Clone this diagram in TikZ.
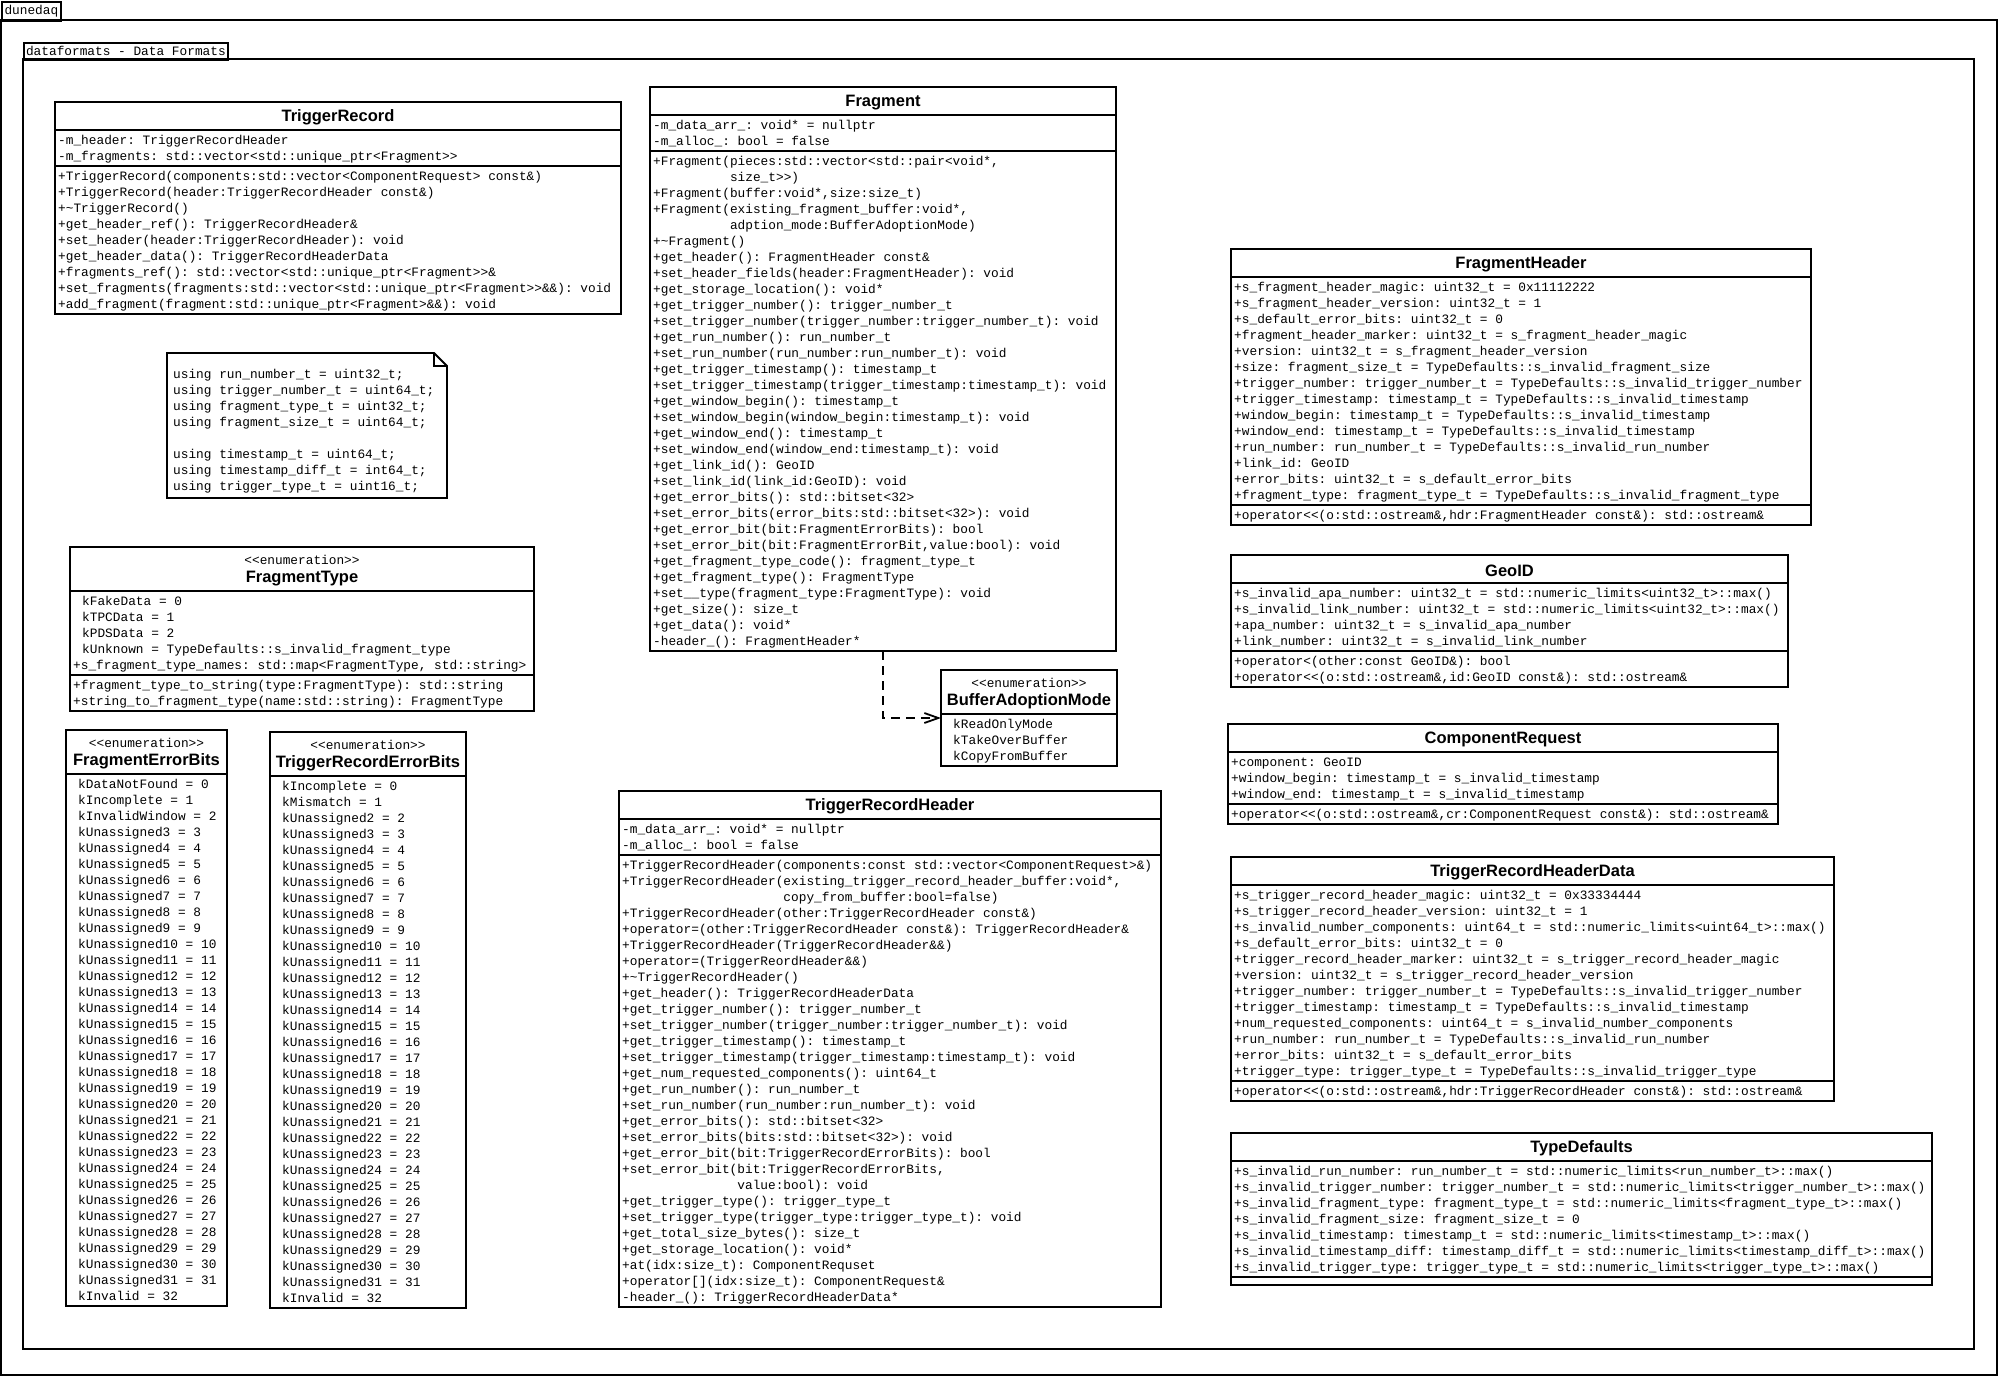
\documentclass[tikz,border=0pt]{standalone}
\usepackage{fontspec}
\setmonofont{Liberation Mono}
\newfontfamily\umltitlefont{Liberation Sans}
\usetikzlibrary{arrows.meta}
\newlength\mycw
\setlength\mycw{7.68pt}
\newcommand\ind{\hspace*{9pt}}
\newcommand\chars[1]{\hspace*{#1\mycw}}
\newcommand\stereo[1]{{\ttfamily\mdseries\fontsize{12.8}{16}\selectfont <<enumeration>>}\\#1}
\tikzset{
  umlbox/.style={draw, line width=1.8pt, fill=white, anchor=north west, inner sep=0pt, outer sep=0pt},
  umlrule/.style={line width=1.8pt},
  umltitle/.style={inner sep=0pt, align=center, font=\umltitlefont\bfseries\fontsize{16.5}{18}\selectfont},
  umltxt/.style={anchor=north west, inner sep=0pt, align=left, font=\ttfamily\fontsize{12.8}{16}\selectfont},
  umltab/.style={draw, line width=1.8pt, anchor=north west, inner sep=0pt, font=\ttfamily\fontsize{12.8}{16}\selectfont},
  umldep/.style={line width=1.8pt, dash pattern=on 9pt off 6pt, -{Straight Barb[length=14pt,width=10pt,line width=1.8pt]}},
}
\newcommand\umlclass[8]{%
  \pgfmathsetmacro\ua{#3+#6}%
  \pgfmathsetmacro\ub{\ua+(#7>0 ? #7*16+4 : 8)}%
  \pgfmathsetmacro\uc{\ub+(#8<0 ? 0 : (#8>0 ? #8*16+4 : 8))}%
  \pgfmathsetmacro\uh{\uc-#3}%
  \node[umlbox, minimum width=#4pt, minimum height=\uh pt] (#1) at (#2,#3) {};
  \draw[umlrule] (#2,\ua) -- ++(#4,0);
  \ifnum#8<0 \else\draw[umlrule] (#2,\ub) -- ++(#4,0);\fi
  \node[umltitle] (#1-title) at ({#2+#4/2},{#3+#6/2+1.5}) {#5};
  \xdef\boxx{#2}\xdef\attrtop{\ua}\xdef\methtop{\ub}%
}
\newcommand\attrs[2]{\node[umltxt] (#1) at ({\boxx+3},{\attrtop+2.5}) {\rule{0pt}{12pt}#2};}
\newcommand\meths[2]{\node[umltxt] (#1) at ({\boxx+3},{\methtop+2.5}) {\rule{0pt}{12pt}#2};}
\begin{document}
\begin{tikzpicture}[x=1pt,y=-1pt]
\useasboundingbox (0,0) rectangle (2000,1377);
\fill[white] (0,0) rectangle (2000,1377);
% frames
\draw[umlrule] (1,20) rectangle (1997,1375);
\node[umltab, minimum width=59pt, minimum height=19pt] (dunedaq) at (1,1) {dunedaq};
\draw[umlrule] (23,59) rectangle (1974,1349);
\node[umltab, minimum width=204pt, minimum height=17pt] (dataformats) at (23,42) {dataformats - Data Formats};

% TriggerRecord
\umlclass{tr}{55}{102}{566}{TriggerRecord}{28}{2}{9}
\attrs{tr-a}{-m\_header: TriggerRecordHeader\\
-m\_fragments: std::vector<std::unique\_ptr<Fragment>>}
\meths{tr-m}{+TriggerRecord(components:std::vector<ComponentRequest> const\&)\\
+TriggerRecord(header:TriggerRecordHeader const\&)\\
+\textasciitilde TriggerRecord()\\
+get\_header\_ref(): TriggerRecordHeader\&\\
+set\_header(header:TriggerRecordHeader): void\\
+get\_header\_data(): TriggerRecordHeaderData\\
+fragments\_ref(): std::vector<std::unique\_ptr<Fragment>>\&\\
+set\_fragments(fragments:std::vector<std::unique\_ptr<Fragment>>\&\&): void\\
+add\_fragment(fragment:std::unique\_ptr<Fragment>\&\&): void}

% Fragment
\umlclass{frag}{650}{87}{466}{Fragment}{28}{2}{31}
\attrs{frag-a}{-m\_data\_arr\_: void* = nullptr\\
-m\_alloc\_: bool = false}
\meths{frag-m}{+Fragment(pieces:std::vector<std::pair<void*,\\
\chars{10}size\_t>>)\\
+Fragment(buffer:void*,size:size\_t)\\
+Fragment(existing\_fragment\_buffer:void*,\\
\chars{10}adption\_mode:BufferAdoptionMode)\\
+\textasciitilde Fragment()\\
+get\_header(): FragmentHeader const\&\\
+set\_header\_fields(header:FragmentHeader): void\\
+get\_storage\_location(): void*\\
+get\_trigger\_number(): trigger\_number\_t\\
+set\_trigger\_number(trigger\_number:trigger\_number\_t): void\\
+get\_run\_number(): run\_number\_t\\
+set\_run\_number(run\_number:run\_number\_t): void\\
+get\_trigger\_timestamp(): timestamp\_t\\
+set\_trigger\_timestamp(trigger\_timestamp:timestamp\_t): void\\
+get\_window\_begin(): timestamp\_t\\
+set\_window\_begin(window\_begin:timestamp\_t): void\\
+get\_window\_end(): timestamp\_t\\
+set\_window\_end(window\_end:timestamp\_t): void\\
+get\_link\_id(): GeoID\\
+set\_link\_id(link\_id:GeoID): void\\
+get\_error\_bits(): std::bitset<32>\\
+set\_error\_bits(error\_bits:std::bitset<32>): void\\
+get\_error\_bit(bit:FragmentErrorBits): bool\\
+set\_error\_bit(bit:FragmentErrorBit,value:bool): void\\
+get\_fragment\_type\_code(): fragment\_type\_t\\
+get\_fragment\_type(): FragmentType\\
+set\_\_type(fragment\_type:FragmentType): void\\
+get\_size(): size\_t\\
+get\_data(): void*\\
-header\_(): FragmentHeader*}

% note
\draw[umlrule] (167,353) -- (434,353) -- (447,366) -- (447,498) -- (167,498) -- cycle;
\draw[line width=1.2pt] (434,353) -- (434,366) -- (447,366);
\node[umltxt] (typesnote) at (173,366) {\rule{0pt}{12pt}using run\_number\_t = uint32\_t;\\
using trigger\_number\_t = uint64\_t;\\
using fragment\_type\_t = uint32\_t;\\
using fragment\_size\_t = uint64\_t;\\
\mbox{}\\
using timestamp\_t = uint64\_t;\\
using timestamp\_diff\_t = int64\_t;\\
using trigger\_type\_t = uint16\_t;};

% FragmentType
\umlclass{ft}{70}{547}{464}{\stereo{FragmentType}}{44}{5}{2}
\attrs{ft-a}{\ind kFakeData = 0\\
\ind kTPCData = 1\\
\ind kPDSData = 2\\
\ind kUnknown = TypeDefaults::s\_invalid\_fragment\_type\\
+s\_fragment\_type\_names: std::map<FragmentType, std::string>}
\meths{ft-m}{+fragment\_type\_to\_string(type:FragmentType): std::string\\
+string\_to\_fragment\_type(name:std::string): FragmentType}

% FragmentErrorBits
\umlclass{feb}{66}{730}{161}{\stereo{FragmentErrorBits}}{44}{33}{-1}
\attrs{feb-a}{\ind kDataNotFound = 0\\
\ind kIncomplete = 1\\
\ind kInvalidWindow = 2\\
\ind kUnassigned3 = 3\\
\ind kUnassigned4 = 4\\
\ind kUnassigned5 = 5\\
\ind kUnassigned6 = 6\\
\ind kUnassigned7 = 7\\
\ind kUnassigned8 = 8\\
\ind kUnassigned9 = 9\\
\ind kUnassigned10 = 10\\
\ind kUnassigned11 = 11\\
\ind kUnassigned12 = 12\\
\ind kUnassigned13 = 13\\
\ind kUnassigned14 = 14\\
\ind kUnassigned15 = 15\\
\ind kUnassigned16 = 16\\
\ind kUnassigned17 = 17\\
\ind kUnassigned18 = 18\\
\ind kUnassigned19 = 19\\
\ind kUnassigned20 = 20\\
\ind kUnassigned21 = 21\\
\ind kUnassigned22 = 22\\
\ind kUnassigned23 = 23\\
\ind kUnassigned24 = 24\\
\ind kUnassigned25 = 25\\
\ind kUnassigned26 = 26\\
\ind kUnassigned27 = 27\\
\ind kUnassigned28 = 28\\
\ind kUnassigned29 = 29\\
\ind kUnassigned30 = 30\\
\ind kUnassigned31 = 31\\
\ind kInvalid = 32}

% TriggerRecordErrorBits
\umlclass{treb}{270}{732}{196}{\stereo{TriggerRecordErrorBits}}{44}{33}{-1}
\attrs{treb-a}{\ind kIncomplete = 0\\
\ind kMismatch = 1\\
\ind kUnassigned2 = 2\\
\ind kUnassigned3 = 3\\
\ind kUnassigned4 = 4\\
\ind kUnassigned5 = 5\\
\ind kUnassigned6 = 6\\
\ind kUnassigned7 = 7\\
\ind kUnassigned8 = 8\\
\ind kUnassigned9 = 9\\
\ind kUnassigned10 = 10\\
\ind kUnassigned11 = 11\\
\ind kUnassigned12 = 12\\
\ind kUnassigned13 = 13\\
\ind kUnassigned14 = 14\\
\ind kUnassigned15 = 15\\
\ind kUnassigned16 = 16\\
\ind kUnassigned17 = 17\\
\ind kUnassigned18 = 18\\
\ind kUnassigned19 = 19\\
\ind kUnassigned20 = 20\\
\ind kUnassigned21 = 21\\
\ind kUnassigned22 = 22\\
\ind kUnassigned23 = 23\\
\ind kUnassigned24 = 24\\
\ind kUnassigned25 = 25\\
\ind kUnassigned26 = 26\\
\ind kUnassigned27 = 27\\
\ind kUnassigned28 = 28\\
\ind kUnassigned29 = 29\\
\ind kUnassigned30 = 30\\
\ind kUnassigned31 = 31\\
\ind kInvalid = 32}

% BufferAdoptionMode
\umlclass{bam}{941}{670}{176}{\stereo{BufferAdoptionMode}}{44}{3}{-1}
\attrs{bam-a}{\ind kReadOnlyMode\\
\ind kTakeOverBuffer\\
\ind kCopyFromBuffer}

% TriggerRecordHeader
\umlclass{trh}{619}{791}{542}{TriggerRecordHeader}{28}{2}{28}
\attrs{trh-a}{-m\_data\_arr\_: void* = nullptr\\
-m\_alloc\_: bool = false}
\meths{trh-m}{+TriggerRecordHeader(components:const std::vector<ComponentRequest>\&)\\
+TriggerRecordHeader(existing\_trigger\_record\_header\_buffer:void*,\\
\chars{21}copy\_from\_buffer:bool=false)\\
+TriggerRecordHeader(other:TriggerRecordHeader const\&)\\
+operator=(other:TriggerRecordHeader const\&): TriggerRecordHeader\&\\
+TriggerRecordHeader(TriggerRecordHeader\&\&)\\
+operator=(TriggerReordHeader\&\&)\\
+\textasciitilde TriggerRecordHeader()\\
+get\_header(): TriggerRecordHeaderData\\
+get\_trigger\_number(): trigger\_number\_t\\
+set\_trigger\_number(trigger\_number:trigger\_number\_t): void\\
+get\_trigger\_timestamp(): timestamp\_t\\
+set\_trigger\_timestamp(trigger\_timestamp:timestamp\_t): void\\
+get\_num\_requested\_components(): uint64\_t\\
+get\_run\_number(): run\_number\_t\\
+set\_run\_number(run\_number:run\_number\_t): void\\
+get\_error\_bits(): std::bitset<32>\\
+set\_error\_bits(bits:std::bitset<32>): void\\
+get\_error\_bit(bit:TriggerRecordErrorBits): bool\\
+set\_error\_bit(bit:TriggerRecordErrorBits,\\
\chars{15}value:bool): void\\
+get\_trigger\_type(): trigger\_type\_t\\
+set\_trigger\_type(trigger\_type:trigger\_type\_t): void\\
+get\_total\_size\_bytes(): size\_t\\
+get\_storage\_location(): void*\\
+at(idx:size\_t): ComponentRequset\\
+operator[](idx:size\_t): ComponentRequest\&\\
-header\_(): TriggerRecordHeaderData*}

% FragmentHeader
\umlclass{fh}{1231}{249}{580}{FragmentHeader}{28}{14}{1}
\attrs{fh-a}{+s\_fragment\_header\_magic: uint32\_t = 0x11112222\\
+s\_fragment\_header\_version: uint32\_t = 1\\
+s\_default\_error\_bits: uint32\_t = 0\\
+fragment\_header\_marker: uint32\_t = s\_fragment\_header\_magic\\
+version: uint32\_t = s\_fragment\_header\_version\\
+size: fragment\_size\_t = TypeDefaults::s\_invalid\_fragment\_size\\
+trigger\_number: trigger\_number\_t = TypeDefaults::s\_invalid\_trigger\_number\\
+trigger\_timestamp: timestamp\_t = TypeDefaults::s\_invalid\_timestamp\\
+window\_begin: timestamp\_t = TypeDefaults::s\_invalid\_timestamp\\
+window\_end: timestamp\_t = TypeDefaults::s\_invalid\_timestamp\\
+run\_number: run\_number\_t = TypeDefaults::s\_invalid\_run\_number\\
+link\_id: GeoID\\
+error\_bits: uint32\_t = s\_default\_error\_bits\\
+fragment\_type: fragment\_type\_t = TypeDefaults::s\_invalid\_fragment\_type}
\meths{fh-m}{\underline{+operator<<(o:std::ostream\&,hdr:FragmentHeader const\&): std::ostream\&}}

% GeoID
\umlclass{geo}{1231}{555}{557}{GeoID}{28}{4}{2}
\attrs{geo-a}{+s\_invalid\_apa\_number: uint32\_t = std::numeric\_limits<uint32\_t>::max()\\
+s\_invalid\_link\_number: uint32\_t = std::numeric\_limits<uint32\_t>::max()\\
+apa\_number: uint32\_t = s\_invalid\_apa\_number\\
+link\_number: uint32\_t = s\_invalid\_link\_number}
\meths{geo-m}{+operator<(other:const GeoID\&): bool\\
\underline{+operator<<(o:std::ostream\&,id:GeoID const\&): std::ostream\&}}

% ComponentRequest
\umlclass{cr}{1228}{724}{550}{ComponentRequest}{28}{3}{1}
\attrs{cr-a}{+component: GeoID\\
+window\_begin: timestamp\_t = s\_invalid\_timestamp\\
+window\_end: timestamp\_t = s\_invalid\_timestamp}
\meths{cr-m}{\underline{+operator<<(o:std::ostream\&,cr:ComponentRequest const\&): std::ostream\&}}

% TriggerRecordHeaderData
\umlclass{trhd}{1231}{857}{603}{TriggerRecordHeaderData}{28}{12}{1}
\attrs{trhd-a}{+s\_trigger\_record\_header\_magic: uint32\_t = 0x33334444\\
+s\_trigger\_record\_header\_version: uint32\_t = 1\\
+s\_invalid\_number\_components: uint64\_t = std::numeric\_limits<uint64\_t>::max()\\
+s\_default\_error\_bits: uint32\_t = 0\\
+trigger\_record\_header\_marker: uint32\_t = s\_trigger\_record\_header\_magic\\
+version: uint32\_t = s\_trigger\_record\_header\_version\\
+trigger\_number: trigger\_number\_t = TypeDefaults::s\_invalid\_trigger\_number\\
+trigger\_timestamp: timestamp\_t = TypeDefaults::s\_invalid\_timestamp\\
+num\_requested\_components: uint64\_t = s\_invalid\_number\_components\\
+run\_number: run\_number\_t = TypeDefaults::s\_invalid\_run\_number\\
+error\_bits: uint32\_t = s\_default\_error\_bits\\
+trigger\_type: trigger\_type\_t = TypeDefaults::s\_invalid\_trigger\_type}
\meths{trhd-m}{\underline{+operator<<(o:std::ostream\&,hdr:TriggerRecordHeader const\&): std::ostream\&}}

% TypeDefaults
\umlclass{td}{1231}{1133}{701}{TypeDefaults}{28}{7}{0}
\attrs{td-a}{+s\_invalid\_run\_number: run\_number\_t = std::numeric\_limits<run\_number\_t>::max()\\
+s\_invalid\_trigger\_number: trigger\_number\_t = std::numeric\_limits<trigger\_number\_t>::max()\\
+s\_invalid\_fragment\_type: fragment\_type\_t = std::numeric\_limits<fragment\_type\_t>::max()\\
+s\_invalid\_fragment\_size: fragment\_size\_t = 0\\
+s\_invalid\_timestamp: timestamp\_t = std::numeric\_limits<timestamp\_t>::max()\\
+s\_invalid\_timestamp\_diff: timestamp\_diff\_t = std::numeric\_limits<timestamp\_diff\_t>::max()\\
+s\_invalid\_trigger\_type: trigger\_type\_t = std::numeric\_limits<trigger\_type\_t>::max()}

% dependency
\draw[umldep] (frag.south) |- (bam.west);
\end{tikzpicture}
\end{document}
